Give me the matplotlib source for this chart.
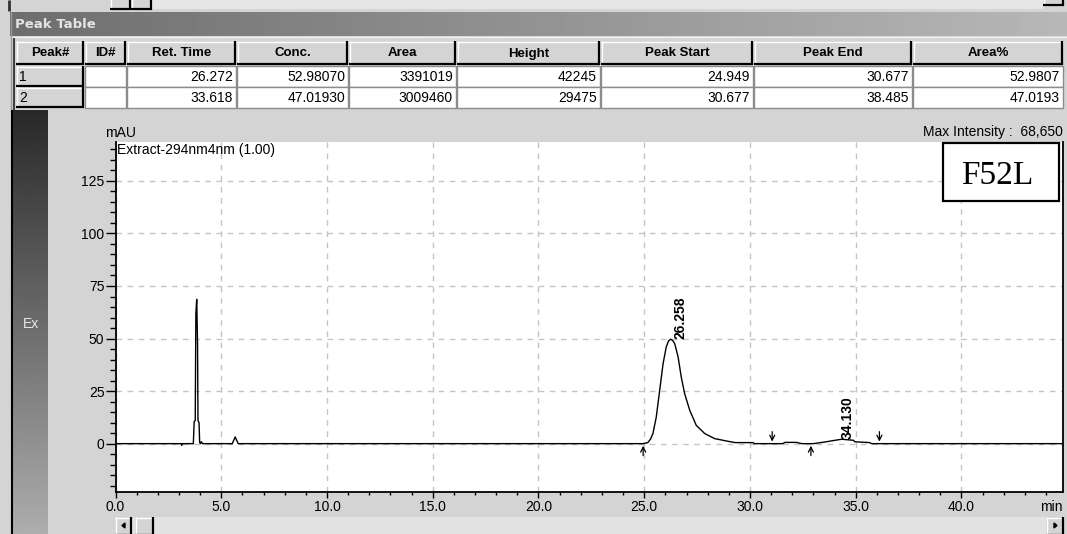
import numpy as np
import matplotlib.pyplot as plt
from matplotlib.patches import Rectangle
from matplotlib.transforms import Affine2D

W, H, DPI = 1067, 534, 100
UI_FONT = ["Liberation Sans", "DejaVu Sans"]
plt.rcParams["font.family"] = UI_FONT

# ---- chromatogram trace (retention time in min, signal in mAU) ----
time_min = [0.00, 3.10, 3.13, 3.16, 3.68, 3.72, 3.77, 3.80, 3.84, 3.88, 3.90,
            3.95, 3.98, 4.02, 4.06, 4.12, 5.52, 5.66, 5.80, 5.90,
            24.95, 25.17, 25.30, 25.41, 25.57, 25.73, 25.89, 26.04, 26.15,
            26.25, 26.35, 26.44, 26.60, 26.75, 26.91, 27.15, 27.46, 27.86,
            28.33, 28.97, 29.30, 30.15, 30.20, 31.55, 31.65, 32.20, 32.45,
            32.99, 33.55, 34.02, 34.34, 34.89, 34.95, 35.66, 35.75, 44.80]
signal_mau = [0.0, 0.0, -0.8, 0.0, 0.0, 10.5, 11.0, 62.0, 68.65, 47.0, 11.0,
              10.0, 0.5, 0.0, 0.9, 0.0, 0.0, 3.2, 0.0, 0.0,
              0.0, 0.5, 2.2, 4.8, 12.7, 25.4, 38.0, 46.0, 48.9,
              49.7, 49.0, 47.6, 41.3, 31.7, 23.8, 15.9, 8.7, 4.8,
              2.4, 1.1, 0.5, 0.5, 0.0, 0.0, 0.6, 0.6, 0.0,
              0.0, 0.8, 1.6, 2.1, 1.6, 0.9, 0.5, 0.0, 0.0]

# labelled peaks (retention times)
peak_rt = [26.258, 34.130]

# integration marks: time and direction (+1 start arrow up, -1 end arrow down)
mark_time = [24.949, 31.05, 32.88, 36.12]
mark_dir = [1, -1, 1, -1]

y_ticks = [0, 25, 50, 75, 100, 125]
x_ticks = [0, 5, 10, 15, 20, 25, 30, 35, 40]

# ---- peak table ----
table_columns = ["Peak#", "ID#", "Ret. Time", "Conc.", "Area", "Height",
                 "Peak Start", "Peak End", "Area%"]
peak_no = ["1", "2"]
peak_id = ["", ""]
ret_time = ["26.272", "33.618"]
conc = ["52.98070", "47.01930"]
area = ["3391019", "3009460"]
height = ["42245", "29475"]
peak_start = ["24.949", "30.677"]
peak_end = ["30.677", "38.485"]
area_pct = ["52.9807", "47.0193"]

max_intensity = "68,650"
sample_tag = "F52L"
channel = "Extract-294nm4nm (1.00)"

FS = 10  # UI text size

fig = plt.figure(figsize=(W / DPI, H / DPI), dpi=DPI)
fig.patch.set_facecolor("#d4d4d4")
# screen-pixel transform (origin top-left)
pix = Affine2D().scale(1 / W, -1 / H).translate(0, 1) + fig.transFigure

# pixel-space layer for the window chrome
ui = fig.add_axes([0, 0, 1, 1], zorder=0)
ui.set_xlim(0, W)
ui.set_ylim(H, 0)
ui.axis("off")

def rect(x0, y0, x1, y1, fc, ec="none", lw=0, z=1):
    ui.add_patch(Rectangle((x0, y0), x1 - x0, y1 - y0, facecolor=fc,
                           edgecolor=ec, linewidth=lw, zorder=z))

def hline(x0, x1, y, c, lw=1, z=3):
    ui.plot([x0, x1], [y, y], color=c, lw=lw, zorder=z, solid_capstyle="butt")

def vline(x, y0, y1, c, lw=1, z=3):
    ui.plot([x, x], [y0, y1], color=c, lw=lw, zorder=z, solid_capstyle="butt")

def raised(x0, y0, x1, y1, z=2):
    rect(x0, y0, x1, y1, "#d4d4d4", z=z)
    hline(x0, x1, y0 + 0.5, "white", 1, z + 1)
    vline(x0 + 0.5, y0, y1, "white", 1, z + 1)
    hline(x0, x1, y1 - 1, "black", 1.6, z + 1)
    vline(x1 - 1, y0, y1, "black", 1.6, z + 1)

# top strip with scroll buttons and dithered track
rect(0, 0, W, 11, "#d4d4d4")
rect(152, 0, 1043, 9, "#e6e6e6")
raised(110, -2, 131, 10)
raised(131, -2, 152, 10)
raised(1043, -2, 1064, 6)
vline(9, 0, 11, "#303030", 2)

# "Peak Table" title bar (horizontal gradient)
grad = np.linspace(0.43, 0.72, 256)[None, :]
ui.imshow(grad, extent=[10, W, 36, 12], cmap="gray", vmin=0, vmax=1,
          aspect="auto", zorder=1, interpolation="bilinear")
ui.text(15, 24.5, "Peak Table", color="#e4e4e4", fontsize=9.5,
        fontweight="bold", family=["DejaVu Sans"], va="center", ha="left", zorder=4)
hline(10, W, 37, "#f0f0f0", 1)
vline(10.5, 12, 110, "#9a9a9a", 1)
vline(13.5, 38, 110, "#404040", 1.5)

# table grid
col_edges = [15, 84, 126, 236, 348, 456, 600, 753, 912, 1063]
head_top, head_bot = 41, 65
row_edges = [66, 87, 108]

for i, name in enumerate(table_columns):
    x0, x1 = col_edges[i] + 1, col_edges[i + 1]
    raised(x0, head_top, x1, head_bot)
    ui.text((x0 + x1) / 2, (head_top + head_bot) / 2 + 0.5, name,
            fontsize=9.5, fontweight="bold", ha="center", va="center", zorder=5)

table_rows = list(zip(peak_no, peak_id, ret_time, conc, area, height,
                      peak_start, peak_end, area_pct))
for r, values in enumerate(table_rows):
    y0, y1 = row_edges[r], row_edges[r + 1]
    for i, val in enumerate(values):
        x0, x1 = col_edges[i] + 1, col_edges[i + 1]
        if i == 0:
            raised(x0, y0, x1, y1)
            ui.text(x0 + 3, (y0 + y1) / 2 + 0.5, val, fontsize=FS,
                    ha="left", va="center", zorder=5)
        else:
            rect(x0, y0, x1, y1, "white", ec="#8c8c8c", lw=1)
            ui.text(x1 - 3, (y0 + y1) / 2 + 0.5, val, fontsize=FS,
                    ha="right", va="center", zorder=5)

# left channel bar with vertical gradient
vline(12, 110, H, "black", 1.5)
vgrad = np.linspace(0.16, 0.68, 256)[:, None]
ui.imshow(vgrad, extent=[13, 48, H, 110], cmap="gray", vmin=0, vmax=1,
          aspect="auto", zorder=1, interpolation="bilinear")
ui.text(31, 324, "Ex", color="#e8e8e8", fontsize=FS, ha="center",
        va="center", zorder=4)

# bottom scrollbar
rect(115, 517, 1063, H, "#e2e2e2")
raised(115, 517, 132, H + 2)
raised(135, 517, 154, H + 2)
raised(1046, 517, 1064, H + 2)
ui.fill([122, 125, 125], [525.5, 523, 528], color="black", zorder=5)
ui.fill([1057, 1054, 1054], [525.5, 523, 528], color="black", zorder=5)

# panel captions
ui.text(105, 133, "mAU", fontsize=FS, ha="left", va="center", zorder=4)
ui.text(1063, 132, f"Max Intensity :  {max_intensity}", fontsize=FS,
        ha="right", va="center", zorder=4)
ui.text(1063, 507, "min", fontsize=FS, ha="right", va="center", zorder=4)

# ---- chromatogram axes ----
ax_l, ax_r, ax_t, ax_b = 115.5, 1063, 142, 492
ax = fig.add_axes([ax_l / W, 1 - ax_b / H, (ax_r - ax_l) / W, (ax_b - ax_t) / H],
                  zorder=2)
ax.set_facecolor("white")
ax.set_xlim(0, 44.8)
ax.set_ylim(-23, 143.5)

ax.set_xticks(x_ticks)
ax.set_xticklabels([f"{v:.1f}" for v in x_ticks])
ax.set_xticks(np.arange(0, 45, 1), minor=True)
ax.set_yticks(y_ticks)
ax.set_yticklabels([str(v) for v in y_ticks])
ax.set_yticks(np.arange(-20, 145, 5), minor=True)

ax.tick_params(axis="y", which="major", direction="out", length=7.5, width=1,
               pad=0.5, labelsize=FS)
ax.tick_params(axis="y", which="minor", direction="out", length=4, width=1)
ax.tick_params(axis="x", which="major", direction="out", length=4.5, width=1,
               pad=1.5, labelsize=FS)
ax.tick_params(axis="x", which="minor", direction="out", length=2.5, width=1)

ax.grid(True, which="major", color="#c4c4c4", lw=1, linestyle=(0, (4, 4)))
ax.set_axisbelow(True)
for side in ("left", "bottom", "right"):
    ax.spines[side].set_color("black")
    ax.spines[side].set_linewidth(1.3)
ax.spines["top"].set_visible(False)

ax.plot(time_min, signal_mau, color="black", lw=1.0, zorder=3)

# retention-time labels
for rt in peak_rt:
    h = float(np.interp(rt, time_min, signal_mau))
    ax.annotate(f"{rt:.3f}", xy=(rt, h), xytext=(10, 0.5),
                textcoords="offset pixels", rotation=90, ha="center",
                va="bottom", fontsize=FS, fontweight="bold", zorder=4)

# integration start / end marks
for t, d in zip(mark_time, mark_dir):
    ax.annotate("", xy=(t, 0), xytext=(0, -d * 12),
                textcoords="offset pixels",
                arrowprops=dict(arrowstyle="->", lw=0.9, color="black",
                                shrinkA=0, shrinkB=1.5, mutation_scale=9),
                zorder=4)

ax.text(0.002, 0.996, channel, transform=ax.transAxes, fontsize=FS,
        ha="left", va="top", zorder=4)

# sample tag box
ax.add_patch(Rectangle((942.5, 143), 116.5, 58, transform=pix, clip_on=False,
                       facecolor="white", edgecolor="black", linewidth=1.6,
                       zorder=5))
ax.text(997, 184, sample_tag, transform=pix, ha="center", va="baseline",
        fontsize=24, family=["Liberation Serif", "DejaVu Serif"], zorder=6)

fig.savefig("out.png", dpi=DPI)
